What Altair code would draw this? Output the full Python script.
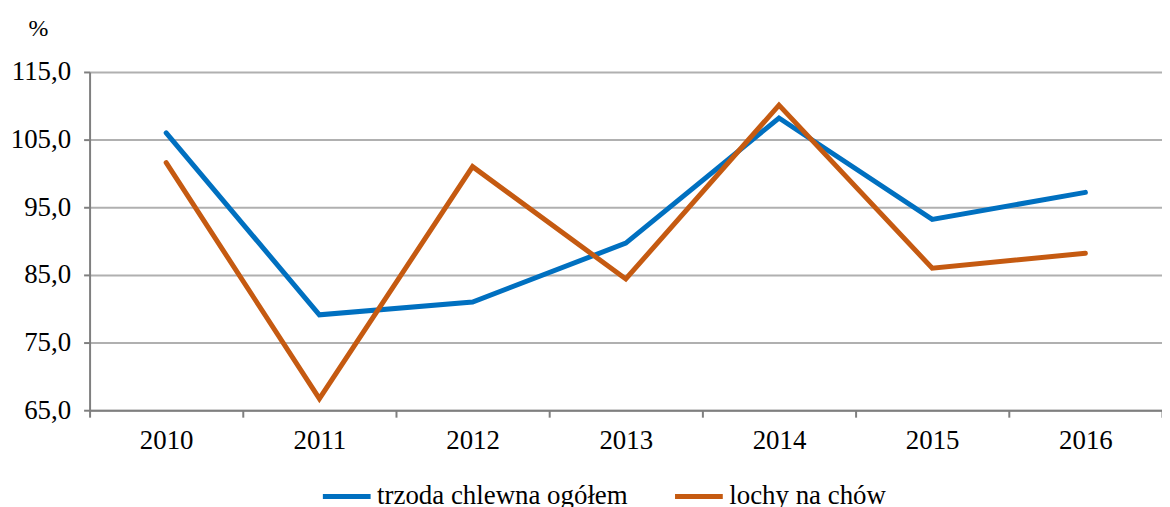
import altair as alt
import pandas as pd

years = ["2010", "2011", "2012", "2013", "2014", "2015", "2016"]
trzoda = [106.0, 79.1, 81.0, 89.7, 108.2, 93.2, 97.2]
lochy = [101.6, 66.7, 101.0, 84.4, 110.1, 86.0, 88.2]
series_names = ["trzoda chlewna ogółem", "lochy na chów"]
series_colors = ["#0070C0", "#C55A11"]
y_ticks = [65, 75, 85, 95, 105, 115]

rows = []
for name, vals in zip(series_names, [trzoda, lochy]):
    for yr, v in zip(years, vals):
        rows.append({"rok": yr, "wartosc": v, "seria": name})
df = pd.DataFrame(rows)

FONT = "Liberation Serif"

chart = alt.Chart(df).mark_line(strokeWidth=5, strokeCap="round").encode(
    x=alt.X("rok:O",
            scale=alt.Scale(type="band", paddingInner=0, paddingOuter=0),
            bandPosition=0.5,
            axis=alt.Axis(title=None, labelAngle=0, tickBand="extent",
                          domainColor="#7f7f7f", domainWidth=2,
                          tickColor="#7f7f7f", tickWidth=2, tickSize=7,
                          labelPadding=10, labelFontSize=27, labelFont=FONT,
                          labelColor="#000000", grid=False)),
    y=alt.Y("wartosc:Q",
            scale=alt.Scale(domain=[65, 115], nice=False, zero=False),
            axis=alt.Axis(values=y_ticks, title="%", titleAngle=0,
                          titleX=-52, titleY=-44, titleAlign="center",
                          titleBaseline="middle", titleFont=FONT,
                          titleFontSize=24, titleFontWeight="normal",
                          titleColor="#000000",
                          labelExpr="replace(format(datum.value, '.1f'), '.', ',')",
                          labelFontSize=27, labelFont=FONT, labelColor="#000000",
                          labelPadding=13,
                          domainColor="#7f7f7f", domainWidth=2,
                          tickColor="#7f7f7f", tickWidth=2, tickSize=6,
                          grid=True, gridColor="#b0b0b0", gridWidth=2)),
    color=alt.Color("seria:N",
                    scale=alt.Scale(domain=series_names, range=series_colors),
                    legend=alt.Legend(title=None, orient="none", direction="horizontal",
                                      legendX=232, legendY=400,
                                      symbolType="stroke", symbolSize=2304,
                                      symbolStrokeWidth=5, labelOffset=4,
                                      columnPadding=37, labelFontSize=27,
                                      labelFont=FONT, labelColor="#000000",
                                      labelLimit=400, padding=0)),
).properties(
    width=1078,
    height=340,
    autosize=alt.AutoSizeParams(type="none"),
    padding={"left": 82, "top": 63, "right": 0, "bottom": 96},
).configure_view(stroke=None)

chart.save("out.html", embed_options={"renderer": "svg", "actions": False})
